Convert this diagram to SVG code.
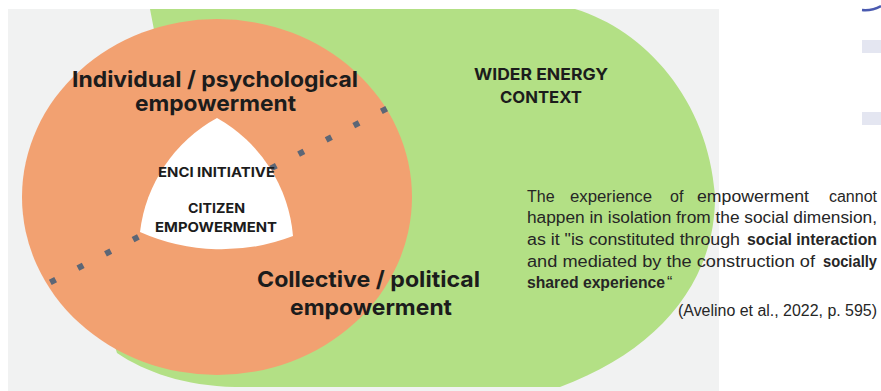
<svg xmlns="http://www.w3.org/2000/svg" width="881" height="391" viewBox="0 0 881 391">
<style>
.h{font-family:Inter,"Noto Sans","DejaVu Sans",sans-serif;font-weight:700;fill:#1c1c1c;text-anchor:middle}
.q{font-family:"Liberation Sans",Arial,sans-serif;font-size:16px;fill:#262626}
.b{font-weight:700}
</style>
<rect width="881" height="391" fill="#ffffff"/>
<rect x="8" y="9" width="711" height="382" fill="#f1f2f2"/>
<rect x="862" y="40" width="19" height="13" fill="#e4e6f1"/>
<rect x="862" y="112" width="19" height="13" fill="#e4e6f1"/>
<path d="M862,10 Q872,11 881,6" fill="none" stroke="#4a5ab0" stroke-width="2.5"/>
<g id="wider-context">
<path d="M150,9 L575,9 C645,30 708,100 715,195 C716,280 660,350 560,387 L235,387 C185,386 145,372 117,353 L100,300 L100,100 L155,35 Z" fill="#b3e085"/>
<text class="h" font-size="16" x="541" y="80" textLength="134" lengthAdjust="spacingAndGlyphs">WIDER ENERGY</text>
<text class="h" font-size="16" x="541" y="103" textLength="82" lengthAdjust="spacingAndGlyphs">CONTEXT</text>
</g>
<g id="individual">
<ellipse cx="217" cy="197" rx="195" ry="178" fill="#f2a171"/>
<text class="h" font-size="22" x="215" y="87" textLength="286" lengthAdjust="spacingAndGlyphs">Individual / psychological</text>
<text class="h" font-size="22" x="215.5" y="111" textLength="161" lengthAdjust="spacingAndGlyphs">empowerment</text>
</g>
<g id="connectors">
<line x1="50.3" y1="282.4" x2="386.7" y2="108.6" stroke="#5c6676" stroke-width="6" stroke-dasharray="6 25.05"/>
</g>
<g id="enci">
<path d="M217,118 A150,150 0 0 0 140,232 A200,200 0 0 0 293,236 A150,150 0 0 0 217,118 Z" fill="#ffffff"/>
<text class="h" font-size="13.5" x="216.5" y="177" textLength="117" lengthAdjust="spacingAndGlyphs">ENCI INITIATIVE</text>
<text class="h" font-size="13.5" x="216.5" y="213" textLength="57" lengthAdjust="spacingAndGlyphs">CITIZEN</text>
<text class="h" font-size="13.5" x="216" y="232" textLength="122" lengthAdjust="spacingAndGlyphs">EMPOWERMENT</text>
</g>
<g id="collective">
<text class="h" font-size="22" x="368.5" y="287" textLength="223" lengthAdjust="spacingAndGlyphs">Collective / political</text>
<text class="h" font-size="22" x="371" y="315" textLength="162" lengthAdjust="spacingAndGlyphs">empowerment</text>
</g>
<g id="quote">
<text class="q" x="527" y="202">The</text>
<text class="q" x="570" y="202" textLength="82" lengthAdjust="spacingAndGlyphs">experience</text>
<text class="q" x="670" y="202">of</text>
<text class="q" x="697" y="202" textLength="112" lengthAdjust="spacingAndGlyphs">empowerment</text>
<text class="q" x="877" y="202" text-anchor="end">cannot</text>
<text class="q" x="527" y="223" textLength="350" lengthAdjust="spacingAndGlyphs">happen in isolation from the social dimension,</text>
<text class="q" x="527" y="245" textLength="213" lengthAdjust="spacingAndGlyphs">as it "is constituted through</text>
<text class="q b" x="747" y="245" textLength="130" lengthAdjust="spacingAndGlyphs">social interaction</text>
<text class="q" x="527" y="267" textLength="288" lengthAdjust="spacingAndGlyphs">and mediated by the construction of</text>
<text class="q b" x="823" y="267" textLength="54" lengthAdjust="spacingAndGlyphs">socially</text>
<text class="q b" x="527" y="288" textLength="138" lengthAdjust="spacingAndGlyphs">shared experience</text>
<text class="q" x="667" y="288">“</text>
<text class="q" x="877" y="316" text-anchor="end" textLength="199" lengthAdjust="spacingAndGlyphs">(Avelino et al., 2022, p. 595)</text>
</g>
</svg>
